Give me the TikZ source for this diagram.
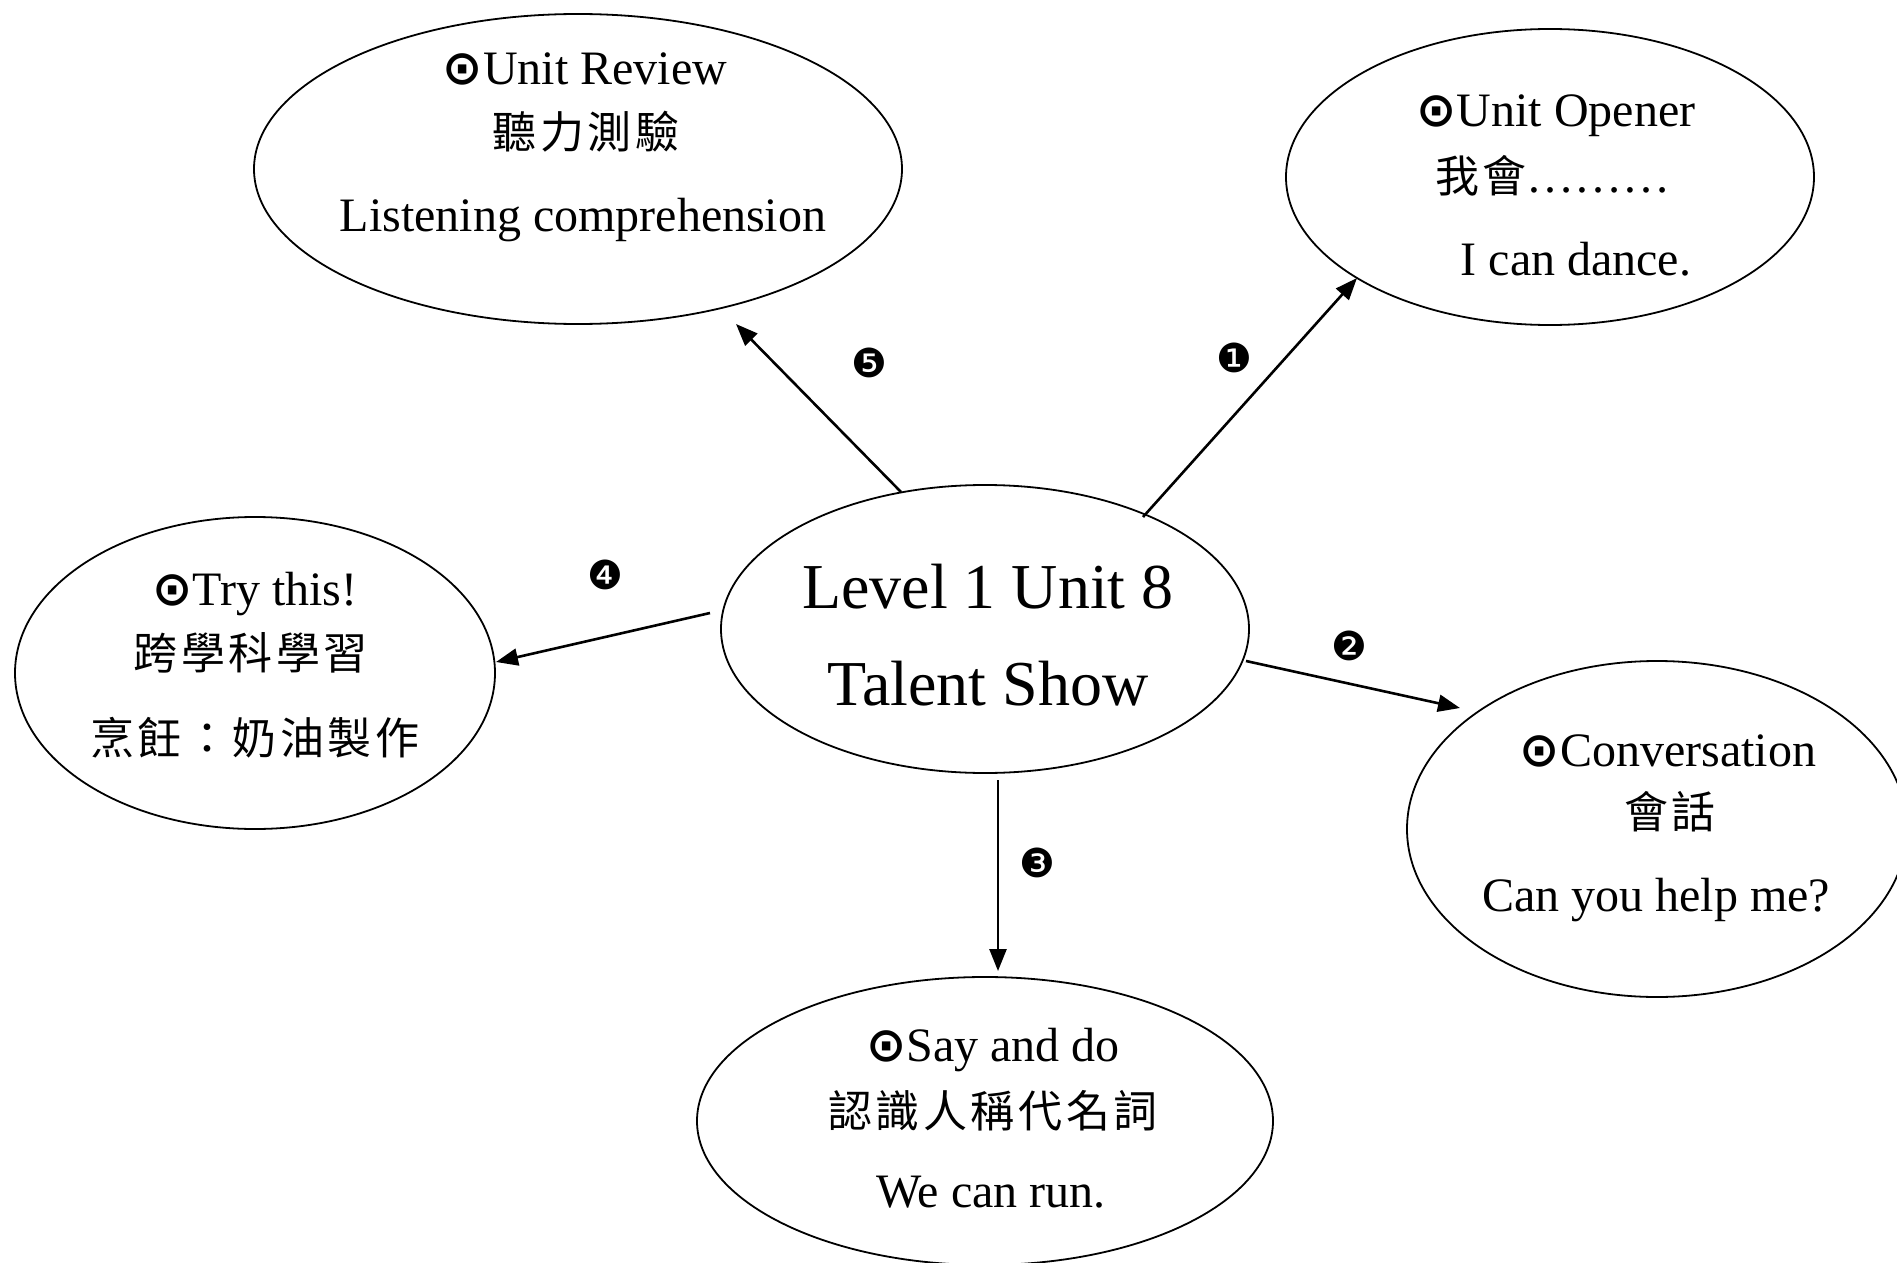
\documentclass[tikz,border=0pt]{standalone}
\usepackage{fontspec}
\setmainfont{Liberation Serif}
\newfontfamily\cjk[LetterSpace=8]{Noto Sans CJK TC}
\newfontfamily\dv{DejaVu Sans}
\usetikzlibrary{shapes.geometric,arrows.meta}
\newcommand{\od}{{\dv\bfseries ⊙}}
\begin{document}
\begin{tikzpicture}[x=0.5pt,y=-0.5pt,
  oval/.style={draw, ellipse, line width=0.9pt, inner sep=0pt},
  lat/.style={anchor=base, inner sep=0pt, font=\fontsize{24}{28}\selectfont},
  big/.style={anchor=base, inner sep=0pt, font=\fontsize{32}{38}\selectfont},
  han/.style={anchor=center, inner sep=0pt, font=\fontsize{22}{26}\selectfont\cjk},
  num/.style={anchor=center, inner sep=0pt, font=\fontsize{20}{24}\selectfont\dv},
  arr/.style={-{Triangle[length=11pt,width=8.5pt]}, line width=1.3pt}]
\useasboundingbox (0,0) rectangle (1897,1263);
\clip (0,0) rectangle (1897,1263);
% ellipses
\node[oval, minimum width=324pt, minimum height=155pt] (rev) at (578,169) {};
\node[oval, minimum width=264pt, minimum height=148pt] (opn) at (1550,177) {};
\node[oval, minimum width=240pt, minimum height=156pt] (try) at (255,673) {};
\node[oval, minimum width=264pt, minimum height=144pt] (ctr) at (985,629) {};
\node[oval, minimum width=250pt, minimum height=168pt] (con) at (1657,829) {};
\node[oval, minimum width=288pt, minimum height=144pt] (say) at (985,1121) {};
% texts
\node[lat] (rev1) at (585,85) {\od Unit Review};
\node[han] (rev2) at (586,132) {聽力測驗};
\node[lat] (rev3) at (583,232) {Listening comprehension};
\node[lat] (opn1) at (1556,127) {\od Unit Opener};
\node[han] (opn2) at (1553,176) {我會{\rmfamily\fontsize{24}{28}\selectfont ………}};
\node[lat] (opn3) at (1576,275) {I can dance.};
\node[lat] (try1) at (255,605) {\od Try this!};
\node[han] (try2) at (251,653) {跨學科學習};
\node[han] (try3) at (255,738) {烹飪：奶油製作};
\node[big] (ctr1) at (988,608) {Level 1 Unit 8};
\node[big] (ctr2) at (988,705) {Talent Show};
\node[lat] (con1) at (1668,766) {\od Conversation};
\node[han] (con2) at (1670,812) {會話};
\node[lat] (con3) at (1656,911) {Can you help me?};
\node[lat] (say1) at (993,1061) {\od Say and do};
\node[han] (say2) at (993,1111) {認識人稱代名詞};
\node[lat] (say3) at (991,1207) {We can run.};
% numbers
\node[num] (n1) at (1234,358) {❶};
\node[num] (n2) at (1349,646) {❷};
\node[num] (n3) at (1037,863) {❸};
\node[num] (n4) at (605,575) {❹};
\node[num] (n5) at (869,363) {❺};
% arrow ends
\coordinate (s1) at (1143,517); \coordinate (e1) at (1357,278);
\coordinate (s2) at (1246,661); \coordinate (e2) at (1460,708);
\coordinate (s3) at (998,780);  \coordinate (e3) at (998,971);
\coordinate (s4) at (710,613);  \coordinate (e4) at (496,662);
\coordinate (s5) at (901,492);  \coordinate (e5) at (736,324);
\draw[arr] (s1) -- (e1);
\draw[arr] (s2) -- (e2);
\draw[arr] (s3) -- (e3);
\draw[arr] (s4) -- (e4);
\draw[arr] (s5) -- (e5);
\end{tikzpicture}
\end{document}
